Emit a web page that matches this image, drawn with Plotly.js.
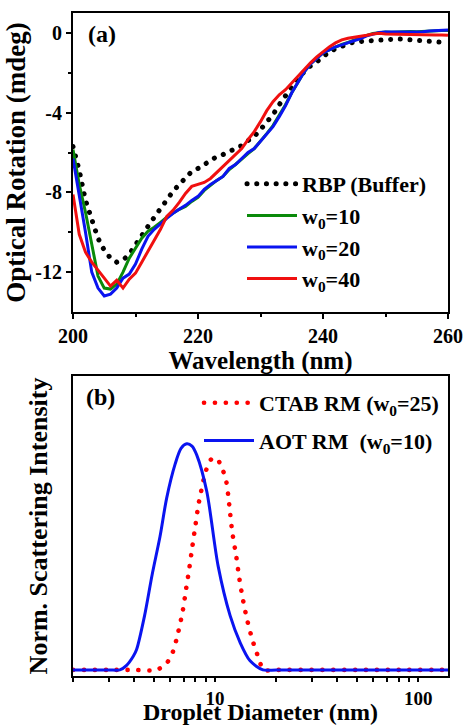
<!DOCTYPE html>
<html>
<head>
<meta charset="utf-8">
<script src="https://cdn.plot.ly/plotly-3.0.1.min.js"></script>
<style>
html,body{margin:0;padding:0;background:#fff;}
#chart{width:465px;height:725px;}
</style>
</head>
<body>
<div id="chart"></div>
<script>
// ---------- Panel (a): CD spectra ----------
const wavelength = [200,201,202,203,204,205,206,207,208,209,210,211,212,213,214,215,216,217,218,219,220,
  221,222,223,224,225,226,227,228,229,230,231,232,233,234,235,236,237,238,239,240,
  241,242,243,244,245,246,247,248,249,250,251,252,253,254,255,256,257,258,259,260];
const rbpBuffer = [-5.7,-6.9,-8.4,-9.4,-10.3,-10.9,-11.3,-11.5,-11.4,-11.1,-10.6,-10.1,-9.7,-9.25,-8.8,-8.35,-7.95,-7.6,-7.25,-6.95,-6.8,
  -6.6,-6.4,-6.2,-6.1,-5.95,-5.8,-5.65,-5.4,-5.2,-4.85,-4.5,-4.1,-3.6,-3.15,-2.7,-2.25,-1.95,-1.65,-1.45,-1.2,
  -0.95,-0.8,-0.65,-0.55,-0.45,-0.42,-0.4,-0.38,-0.35,-0.33,-0.3,-0.3,-0.32,-0.35,-0.4,-0.43,-0.45,-0.47,-0.47,-0.48];
const w0_10 = [-5.85,-7.6,-9.0,-10.7,-12.2,-12.8,-12.85,-12.6,-12.0,-11.3,-10.8,-10.3,-9.95,-9.75,-9.5,-9.25,-9.05,-8.85,-8.7,-8.45,-8.25,
  -7.9,-7.65,-7.4,-7.2,-6.85,-6.6,-6.3,-6.05,-5.8,-5.45,-5.05,-4.65,-4.15,-3.6,-3.0,-2.45,-1.95,-1.55,-1.25,-1.0,
  -0.85,-0.7,-0.58,-0.48,-0.35,-0.25,-0.12,-0.03,0.02,0.05,0.04,0.06,0.05,0.07,0.06,0.08,0.1,0.1,0.12,0.12];
const w0_20 = [-6.3,-8.1,-10.0,-12.0,-12.8,-13.2,-13.1,-12.8,-12.3,-12.1,-11.6,-10.85,-10.2,-9.85,-9.55,-9.3,-9.05,-8.85,-8.65,-8.4,-8.2,
  -7.85,-7.6,-7.4,-7.2,-6.8,-6.6,-6.3,-6.0,-5.8,-5.45,-5.05,-4.7,-4.2,-3.65,-3.0,-2.45,-1.95,-1.55,-1.25,-1.0,
  -0.85,-0.7,-0.6,-0.5,-0.38,-0.28,-0.15,-0.05,0.02,0.05,0.05,0.06,0.05,0.07,0.08,0.06,0.1,0.12,0.14,0.15];
const w0_40 = [-8.1,-10.1,-11.0,-11.5,-11.9,-12.3,-12.7,-12.4,-12.8,-12.35,-12.05,-11.5,-10.95,-10.4,-9.85,-9.2,-8.9,-8.5,-8.05,-7.7,-7.6,
  -7.5,-7.3,-7.0,-6.7,-6.35,-6.1,-5.8,-5.35,-4.95,-4.45,-3.9,-3.45,-3.1,-2.85,-2.5,-2.15,-1.8,-1.5,-1.2,-0.95,
  -0.7,-0.5,-0.35,-0.27,-0.22,-0.2,-0.12,-0.05,-0.02,-0.05,-0.06,-0.07,-0.07,-0.08,-0.07,-0.08,-0.1,-0.1,-0.1,-0.12];
const aYTickVals = [0,-4,-8,-12];
const aYTickText = ['0','-4','-8','-12'];
const aYMinorVals = [-2,-6,-10];

// ---------- Panel (b): DLS size distributions ----------
const ctabDiameter = [2.0,3.0,4.0,5.15,5.78,6.19,6.6,6.93,7.2,7.48,7.73,8.0,8.28,8.5,8.7,8.96,9.3,9.7,10.2,10.9,11.33,11.6,11.86,12.17,12.68,13.12,13.63,14.32,15.26,15.86,16.5,17.3,20,30,50,80,140];
const ctabIntensity = [0,0,0,0,0.03,0.078,0.17,0.26,0.357,0.453,0.545,0.637,0.73,0.78,0.826,0.87,0.917,0.935,0.935,0.885,0.838,0.774,0.693,0.605,0.509,0.413,0.324,0.229,0.133,0.088,0.044,0,0,0,0,0,0];
const aotDiameter = [2.0,3.0,3.4,3.67,3.96,4.11,4.5,4.9,5.36,5.78,6.36,6.8,7.26,7.7,8.13,9.1,10.35,11.86,13.3,14.87,17.2,20,30,50,80,140];
const aotIntensity = [0,0,0,0.02,0.06,0.09,0.24,0.42,0.59,0.76,0.91,0.98,1.0,0.99,0.95,0.79,0.46,0.24,0.12,0.04,0,0,0,0,0,0];
const bXTickVals = [10,100];
const bXTickText = ['10','100'];
const bXMinorVals = [2,3,4,5,6,7,8,9,20,30,40,50,60,70,80,90];

const FONT = "'Liberation Serif', 'Times New Roman', Times, serif";
const W = 465, H = 725;
const px = v => v / W;
const py = v => 1 - v / H;

const traces = [
  {x: wavelength, y: rbpBuffer, name: 'RBP (Buffer)', mode: 'lines', xaxis: 'x', yaxis: 'y',
   line: {color: '#000000', width: 5, dash: '0.1px,9.6px'}},
  {x: wavelength, y: w0_10, name: 'w<sub>0</sub>=10', mode: 'lines', xaxis: 'x', yaxis: 'y',
   line: {color: '#0a8a0a', width: 3}},
  {x: wavelength, y: w0_20, name: 'w<sub>0</sub>=20', mode: 'lines', xaxis: 'x', yaxis: 'y',
   line: {color: '#0a14f0', width: 3}},
  {x: wavelength, y: w0_40, name: 'w<sub>0</sub>=40', mode: 'lines', xaxis: 'x', yaxis: 'y',
   line: {color: '#f01010', width: 3}},
  {x: ctabDiameter, y: ctabIntensity, name: 'CTAB RM (w<sub>0</sub>=25)', mode: 'lines', xaxis: 'x2', yaxis: 'y2',
   legend: 'legend2', legendgroup: 'ctab', line: {color: '#ff0000', width: 4.6, dash: '0.1px,10.8px', shape: 'spline', smoothing: 0.8}},
  {x: aotDiameter, y: aotIntensity, name: 'AOT RM&nbsp; (w<sub>0</sub>=10)', mode: 'lines', xaxis: 'x2', yaxis: 'y2',
   legend: 'legend2', legendgroup: 'aot', line: {color: '#0a14f0', width: 3, shape: 'spline', smoothing: 0.8}}
];

const axisCommon = {
  showline: true, linecolor: '#000', linewidth: 2, mirror: true,
  showgrid: false, zeroline: false,
  tickfont: {family: FONT, size: 20, color: '#000', weight: 'bold'},
  ticks: 'outside', tickcolor: '#000', tickwidth: 2, ticklen: 5
};

const layout = {
  width: W, height: H,
  margin: {l: 0, r: 0, t: 0, b: 0},
  paper_bgcolor: '#fff', plot_bgcolor: '#fff',
  font: {family: FONT, color: '#000'},
  xaxis: Object.assign({}, axisCommon, {
    domain: [px(73), px(448)], anchor: 'y', range: [200, 260], dtick: 20, tick0: 200,
    minor: {ticks: 'outside', dtick: 10, ticklen: 3, tickwidth: 2, tickcolor: '#000'},
    title: {text: 'Wavelength (nm)', font: {family: FONT, size: 25, weight: 'bold', color: '#000'}, standoff: 2}
  }),
  yaxis: Object.assign({}, axisCommon, {
    domain: [py(312), py(13)], anchor: 'x', range: [-14, 1],
    tickmode: 'array', tickvals: aYTickVals, ticktext: aYTickText,
    minor: {ticks: 'outside', tickmode: 'array', tickvals: aYMinorVals, ticklen: 3, tickwidth: 2, tickcolor: '#000'},
    title: {text: 'Optical Rotation (mdeg)', font: {family: FONT, size: 27, weight: 'bold', color: '#000'}, standoff: 2}
  }),
  xaxis2: Object.assign({}, axisCommon, {
    domain: [px(73), px(448)], anchor: 'y2', type: 'log', range: [Math.log10(2), Math.log10(140)],
    tickmode: 'array', tickvals: bXTickVals, ticktext: bXTickText, ticklen: 4,
    tickfont: {family: FONT, size: 19, color: '#000', weight: 'bold'},
    minor: {ticks: 'outside', tickmode: 'array', tickvals: bXMinorVals, ticklen: 4, tickwidth: 2, tickcolor: '#000'},
    title: {text: 'Droplet Diameter (nm)', font: {family: FONT, size: 24, weight: 'bold', color: '#000'}, standoff: 2}
  }),
  yaxis2: Object.assign({}, axisCommon, {
    domain: [py(676), py(376)], anchor: 'x2', range: [-0.027, 1.30],
    ticks: '', showticklabels: false,
    title: {text: 'Norm. Scattering Intensity', font: {family: FONT, size: 26, weight: 'bold', color: '#000'}, standoff: 16}
  }),
  legend: {
    x: px(242), y: py(163), xanchor: 'left', yanchor: 'top',
    bgcolor: 'rgba(0,0,0,0)', borderwidth: 0, itemwidth: 50,
    font: {family: FONT, size: 22, weight: 'bold', color: '#000'}
  },
  legend2: {
    x: px(199), y: py(382), xanchor: 'left', yanchor: 'top',
    bgcolor: 'rgba(0,0,0,0)', borderwidth: 0, itemwidth: 50, tracegroupgap: 6,
    font: {family: FONT, size: 22, weight: 'bold', color: '#000'}
  },
  annotations: [
    {text: '(a)', xref: 'paper', yref: 'paper', x: px(86), y: py(34), xanchor: 'left', yanchor: 'middle',
     showarrow: false, font: {family: FONT, size: 24, weight: 'bold', color: '#000'}},
    {text: '(b)', xref: 'paper', yref: 'paper', x: px(84), y: py(397), xanchor: 'left', yanchor: 'middle',
     showarrow: false, font: {family: FONT, size: 24, weight: 'bold', color: '#000'}}
  ],
  showlegend: true
};

function roundDots() {
  // give dotted lines round caps so dashes render as round dots
  document.querySelectorAll('#chart path.js-line').forEach(p => {
    const da = p.style.strokeDasharray;
    if (da && da !== 'none') p.style.strokeLinecap = 'round';
  });
}

Plotly.newPlot('chart', traces, layout, {displayModeBar: false, staticPlot: true}).then(roundDots);
</script>
</body>
</html>
